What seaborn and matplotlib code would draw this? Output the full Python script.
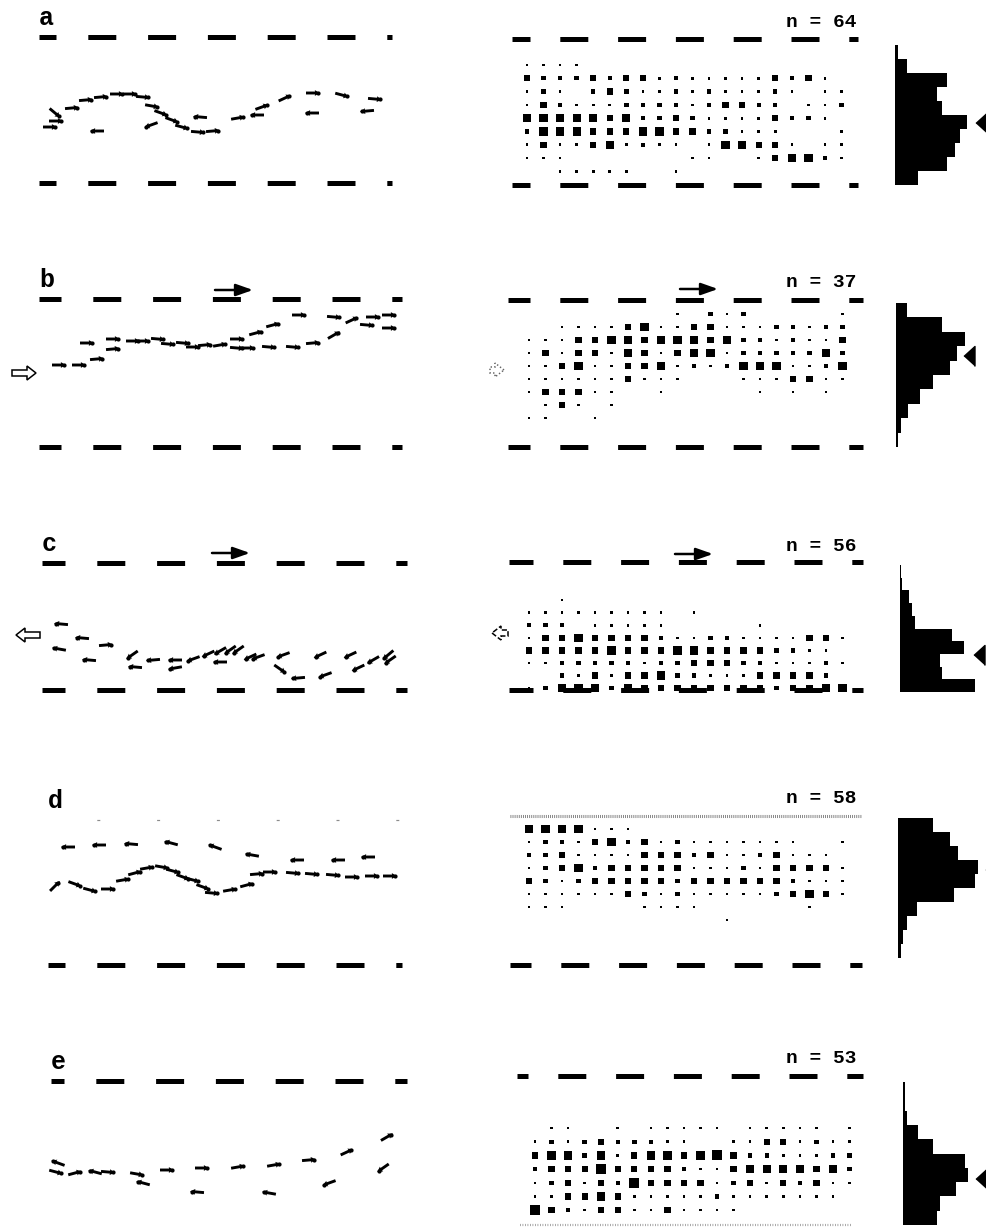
import numpy as np
import pandas as pd
import matplotlib
matplotlib.use("Agg")
import matplotlib.pyplot as plt
import matplotlib.patches as mpatches
import seaborn as sns

sns.set_theme(style="white")
plt.rcParams["font.family"] = ["Liberation Mono", "DejaVu Sans Mono"]
plt.rcParams["lines.scale_dashes"] = False
plt.rcParams["text.color"] = "black"

W, H = 986, 1227
PX = 0.72  # points per pixel at dpi 100

# ---------------- data ----------------
labels = ["a", "b", "c", "d", "e"]
n_counts = [64, 37, 56, 58, 53]

# arrows: x along channel, y below the top wall, heading in degrees (0 = right, 90 = up)
a_x = [25, 26, 20, 42, 56, 71, 87, 100, 113, 122, 131, 142, 152, 168, 183, 67, 121, 170, 208, 227, 232, 255, 283, 312, 345, 282, 337]
a_y = [76, 84, 90, 71, 63, 60, 57, 57, 60, 69, 76, 83, 90, 95, 94, 94, 88, 80, 81, 78, 70, 61, 56, 58, 62, 76, 74]
a_ang = [-40, 0, 0, 5, 5, 5, 0, 0, -5, -10, -20, -20, -15, -5, 5, 180, 200, 175, 10, 180, 20, 25, 0, -15, -5, 180, 185]

b_x = [29, 49, 67, 57, 83, 83, 103, 113, 128, 138, 153, 163, 175, 190, 207, 207, 218, 226, 243, 269, 239, 263, 283, 304, 304, 322, 337, 343, 359, 359]
b_y = [66, 66, 60, 44, 40, 50, 42, 42, 40, 45, 44, 48, 46, 46, 40, 49, 49, 34, 26, 16, 48, 48, 44, 36, 18, 21, 26, 18, 16, 29]
b_ang = [0, 0, 5, 0, 0, 5, 0, 0, -5, -5, -5, 0, 5, 10, 0, -5, 0, 15, 15, 0, -5, -5, 5, 30, -5, 25, -5, 0, 0, 0]

c_x = [31, 52, 29, 76, 59, 102, 105, 123, 145, 145, 163, 178, 190, 190, 200, 208, 220, 228, 253, 250, 268, 290, 295, 320, 328, 343, 360, 358]
c_y = [61, 75, 86, 82, 97, 92, 104, 97, 97, 105, 96, 91, 99, 88, 87, 87, 94, 94, 92, 106, 115, 92, 112, 92, 105, 97, 97, 92]
c_ang = [175, 175, 170, 5, 175, 215, 175, 185, 180, 190, 200, 205, 180, 210, 215, 215, 205, 200, 200, -35, 185, 205, 200, 205, 205, 210, 215, 220]

d_x = [38, 69, 101, 141, 185, 222, 267, 308, 338,
       25, 45, 60, 78, 93, 105, 117, 132, 143, 153, 163, 173, 182, 200, 217, 227, 240, 263, 282, 303, 322, 342, 360]
d_y = [27, 25, 24, 23, 27, 35, 40, 40, 37,
       66, 64, 70, 69, 60, 53, 48, 47, 51, 57, 60, 67, 73, 70, 65, 54, 52, 53, 54, 55, 57, 56, 56]
d_ang = [180, 180, 175, 165, 160, 170, 180, 180, 180,
         45, -20, -15, 0, 10, 15, 10, -10, -15, -20, -15, -20, -5, 10, 15, 5, 0, -5, -5, -5, 0, 0, 0]

e_x = [28, 26, 45, 65, 78, 107, 113, 137, 172, 208, 244, 279, 317, 357, 167, 239, 299, 353]
e_y = [82, 91, 92, 91, 91, 93, 102, 89, 87, 86, 84, 79, 71, 56, 111, 112, 102, 87]
e_ang = [160, -15, 15, 165, -5, -10, 165, 0, 0, 10, 10, 5, 25, 30, 175, 170, 200, 215]

# occupancy grids: one string per row across the channel, digit = square size class
a_grid = ["11110000000000000000",
          "32223233121111132310",
          "12102321121211121011",
          "13211122221233220112",
          "44444342232111132210",
          "24443334533221110001",
          "13113412110144331011",
          "11100000001100134421",
          "00111110010000000000"]
b_grid = ["00000000010212000001",
          "00111134113311122122",
          "11133443444342212113",
          "13133143134412222242",
          "11341133412124441124",
          "11111131110001113311",
          "13331100100000101010",
          "01310100000000000000",
          "11001000000000000000"]
c_grid = ["00100000000000000000",
          "11111111101000000000",
          "22201111100000100000",
          "13343333211221111331",
          "33333433344333322110",
          "11222221223332211121",
          "00213133422111333320",
          "12444243333333323344"]
d_grid = ["44441110000000000000",
          "12213423121111111001",
          "22311113332311231110",
          "12342333331112133331",
          "32123333323333332111",
          "11111132121111123431",
          "11100001111000000100",
          "00000000000010000000"]
e_grid = ["01100101111101111101",
          "12123222110011331211",
          "34424134434532211122",
          "23335333321134444342",
          "12313253333123132311",
          "11334311111211111110",
          "53213311311110000000"]

# cross-channel histograms (top to bottom) and mean marker (offset from histogram base, y)
a_hist = [3, 12, 52, 42, 47, 72, 65, 60, 52, 23]
b_hist = [11, 46, 69, 61, 54, 37, 24, 12, 5, 2]
c_hist = [1, 2, 9, 12, 15, 52, 64, 40, 42, 75]
d_hist = [35, 52, 60, 80, 77, 56, 19, 9, 5, 3]
e_hist = [2, 2, 4, 15, 30, 62, 65, 53, 37, 34]
a_mean = (80, 86)
b_mean = (67, 57)
c_mean = (73, 92)
d_mean = (87, 50)
e_mean = (72, 98)

# ---------------- layout (pixels) ----------------
rows = [
    dict(top=37, arrows=(a_x, a_y, a_ang), grid=a_grid, hist=a_hist, mean=a_mean,
         lwall=(28, 39, 392), lbot=146, mwall=(502, 512, 858), mtop=2, mbot=148,
         g0=(527, 28, 16.55, 13.3), h=(895, 8, 148), ny=-10),
    dict(top=299, arrows=(b_x, b_y, b_ang), grid=b_grid, hist=b_hist, mean=b_mean,
         lwall=(33, 39, 402), lbot=148, mwall=(502, 508, 863), mtop=1, mbot=148,
         g0=(529, 15, 16.5, 13.0), h=(896, 4, 148), ny=-12),
    dict(top=563, arrows=(c_x, c_y, c_ang), grid=c_grid, hist=c_hist, mean=c_mean,
         lwall=(37, 42, 407), lbot=127, mwall=(505, 509, 863), mtop=-1, mbot=127,
         g0=(529, 37, 16.5, 12.6), h=(900, 2, 129), ny=-12),
    dict(top=820, arrows=(d_x, d_y, d_ang), grid=d_grid, hist=d_hist, mean=d_mean,
         lwall=(37, 48, 402), lbot=145, mwall=(503, 510, 862), mtop=-4, mbot=145,
         g0=(529, 9, 16.5, 13.0), h=(898, -2, 138), ny=-17),
    dict(top=1081, arrows=(e_x, e_y, e_ang), grid=e_grid, hist=e_hist, mean=e_mean,
         lwall=(36, 51, 407), lbot=None, mwall=(500, 517, 863), mtop=-5, mbot=144,
         g0=(535, 47, 16.55, 13.7), h=(903, 1, 144), ny=-18),
]

SQUARE_AREA = {1: (2.6 * PX) ** 2, 2: (4.4 * PX) ** 2, 3: (6.3 * PX) ** 2,
               4: (8.3 * PX) ** 2, 5: (9.8 * PX) ** 2}


def wall(ax, phase, start, end, y, period, color="black", lw=5, on=28):
    off = (start - phase) % period
    ax.plot([start, end], [y, y], color=color, lw=lw * PX, solid_capstyle="butt",
            dash_capstyle="butt",
            linestyle=(off * PX, (on * PX, (period - on) * PX)))


def flow_arrow(ax, x0, x1, y):
    ax.annotate("", xy=(x1, y), xytext=(x0, y),
                arrowprops=dict(arrowstyle="-|>,head_length=0.85,head_width=0.3",
                                lw=1.8, color="black", shrinkA=0, shrinkB=0))


def open_arrow(ax, x, y, dx, ls="-", alpha=1.0):
    ax.add_patch(mpatches.FancyArrow(x, y, dx, 0, width=6, head_width=14,
                                     head_length=9, length_includes_head=True,
                                     fc="white", ec="black", lw=1.1, ls=ls, alpha=alpha))


fig = plt.figure(figsize=(W / 100, H / 100), dpi=100)
Y_ABOVE, Y_BELOW = 45, 190

for k, r in enumerate(rows):
    y_top = r["top"] - Y_ABOVE
    span = Y_ABOVE + Y_BELOW
    ax = fig.add_axes([0, 1 - (y_top + span) / H, 1, span / H])

    # ---- left panel: walls + velocity arrows
    p, s, e = r["lwall"]
    if k == 3:
        wall(ax, p, s, e, 0, 59.8, color="0.55", lw=1.2, on=3)
    else:
        wall(ax, p, s, e, 0, 59.8)
    if r["lbot"] is not None:
        wall(ax, p, s, e, r["lbot"], 59.8)
    xs, ys, angs = r["arrows"]
    t = np.deg2rad(angs)
    L = 14
    ux, uy = L * np.cos(t), -L * np.sin(t)
    ax.quiver(np.array(xs) + 30, ys, ux, uy,
              angles="xy", scale_units="xy", scale=1, units="xy", width=2.9,
              headwidth=2.0, headlength=1.8, headaxislength=1.7, pivot="middle",
              color="black")
    # rounded blob at each arrow head
    ax.scatter(np.array(xs) + 30 + 0.35 * ux, np.array(ys) + 0.35 * uy,
               s=(4.2 * PX) ** 2, color="black", linewidth=0)
    ax.text(s, -12, labels[k], fontsize=18, fontweight="bold", color="black",
            ha="left", va="baseline")

    # ---- middle panel: walls + occupancy grid
    p, s, e = r["mwall"]
    if k == 3:
        ax.plot([510, 862], [r["mtop"], r["mtop"]], color="0.45", lw=2.2,
                linestyle=(0, (0.6, 0.9)))
    else:
        wall(ax, p, s, e, r["mtop"], 57.8)
    if k == 4:
        ax.plot([520, 852], [r["mbot"], r["mbot"]], color="0.6", lw=1.6,
                linestyle=(0, (0.6, 1.2)))
    else:
        wall(ax, p, s, e, r["mbot"], 57.8)

    x0, y0, dx, dy = r["g0"]
    recs = []
    for j, line in enumerate(r["grid"]):
        for i, ch in enumerate(line):
            if ch != "0":
                recs.append((x0 + i * dx, y0 + j * dy, int(ch)))
    df = pd.DataFrame(recs, columns=["x", "y", "level"])
    sns.scatterplot(data=df, x="x", y="y", size="level", sizes=SQUARE_AREA,
                    marker="s", color="black", linewidth=0, legend=False, ax=ax)
    ax.text(857, r["ny"], f"n = {n_counts[k]}", fontsize=14, fontweight="bold",
            color="black", ha="right", va="baseline")

    # ---- right panel: histogram + mean marker
    hx, h0, h1 = r["h"]
    vals = np.array(r["hist"])
    bh = (h1 - h0) / len(vals)
    centers = h0 + bh * (np.arange(len(vals)) + 0.5)
    ax.barh(centers, vals, height=bh, left=hx, color="black", linewidth=0)
    mx, my = r["mean"]
    ax.plot([hx + mx + 5.5], [my], marker=[(-0.55, 0), (0.55, 1), (0.55, -1)],
            markersize=20 * PX, color="black", linestyle="none", clip_on=False)

    # ---- flow direction indicators
    if k == 1:
        flow_arrow(ax, 215, 253, -9)
        flow_arrow(ax, 680, 718, -10)
        open_arrow(ax, 12, 74, 24)
        open_arrow(ax, 490, 71, 14, ls=":", alpha=0.6)
    if k == 2:
        flow_arrow(ax, 212, 250, -10)
        flow_arrow(ax, 675, 713, -9)
        open_arrow(ax, 40, 72, -24)
        open_arrow(ax, 508, 70, -16, ls="--")

    ax.set_xlim(0, W)
    ax.set_ylim(Y_BELOW, -Y_ABOVE)
    ax.axis("off")

fig.savefig("out.png", dpi=100, facecolor="white")
